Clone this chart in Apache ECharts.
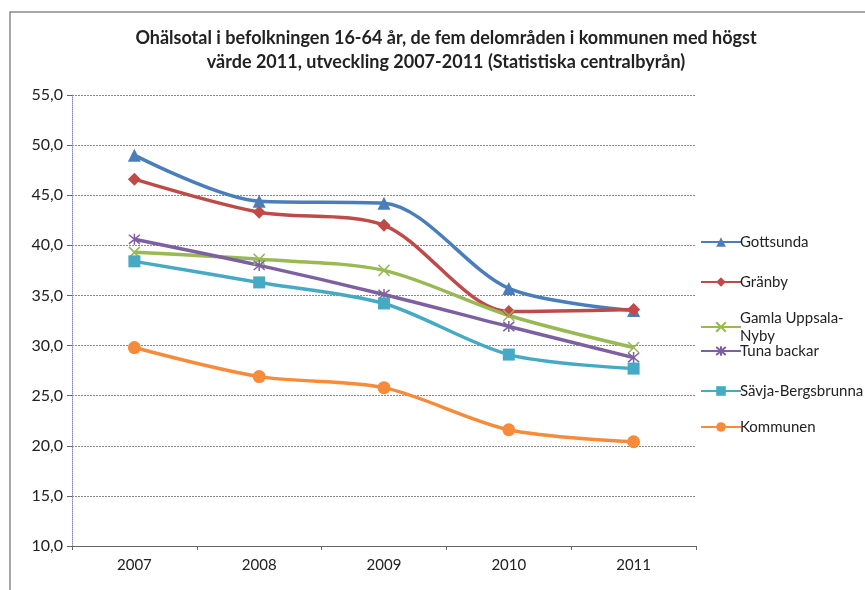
<!DOCTYPE html>
<html>
<head>
<meta charset="utf-8">
<script src="https://cdn.jsdelivr.net/npm/echarts@6/dist/echarts.min.js"></script>
<style>
  html, body { margin: 0; padding: 0; background: #fff; }
  #chart { width: 865px; height: 590px; }
</style>
</head>
<body>
<div id="chart"></div>
<script>
var years = ['2007', '2008', '2009', '2010', '2011'];

var gottsunda = [49.0, 44.4, 44.2, 35.7, 33.5];
var granby    = [46.6, 43.3, 42.0, 33.4, 33.6];
var gamla     = [39.3, 38.6, 37.5, 33.0, 29.8];
var tuna      = [40.6, 38.0, 35.1, 31.9, 28.8];
var savja     = [38.4, 36.3, 34.2, 29.1, 27.7];
var kommunen  = [29.8, 26.9, 25.8, 21.6, 20.4];

var names = ['Gottsunda', 'Gränby', 'Gamla Uppsala-Nyby', 'Tuna backar', 'Sävja-Bergsbrunna', 'Kommunen'];
var colors = ['#4a7ebb', '#be4b48', '#98b954', '#7d60a0', '#46aac5', '#f68c3b'];

var font = 'Lato, "Open Sans", sans-serif';

var x_mark = 'path://M0,0L10,10M10,0L0,10';
var star_mark = 'path://M0,0L10,10M10,0L0,10M5,-1L5,11';

function make_series(i, data, symbol, size, stroke)
{
    var s = {
        name: names[i],
        type: 'line',
        data: data,
        smooth: 0.3,
        symbol: symbol,
        symbolSize: size,
        lineStyle: {color: colors[i], width: 3.5},
        itemStyle: {color: colors[i]}
    };
    if (stroke) {
        s.itemStyle = {color: 'none', borderColor: colors[i], borderWidth: 1.5};
    }
    return s;
}

var legend_tops = [233, 273, 309, 342, 382, 418];

var legends = names.map(function (n, i) {
    return {
        data: [n],
        left: 700,
        top: legend_tops[i],
        orient: 'vertical',
        itemWidth: 40,
        itemHeight: 12,
        itemGap: 0,
        padding: 0,
        selectedMode: false,
        textStyle: {fontFamily: font, fontSize: 15, color: '#222', padding: [0, 0, 0, -6], lineHeight: 18},
        formatter: function (name) {
            return name === 'Gamla Uppsala-Nyby' ? 'Gamla Uppsala-\nNyby' : name;
        }
    };
});

var chart = echarts.init(document.getElementById('chart'));

chart.setOption({
    animation: false,
    backgroundColor: '#fff',
    title: {
        text: 'Ohälsotal i befolkningen 16-64 år, de fem delområden i kommunen med högst\nvärde 2011, utveckling 2007-2011 (Statistiska centralbyrån)',
        left: 441,
        textAlign: 'center',
        top: 21,
        textStyle: {fontFamily: font, fontSize: 18, fontWeight: 'bold', color: '#222', lineHeight: 24}
    },
    graphic: [{
        type: 'rect',
        shape: {x: 10, y: 12, width: 900, height: 700},
        style: {fill: 'none', stroke: '#8a8a8a', lineWidth: 1.5},
        silent: true
    }],
    legend: legends,
    grid: {left: 72, right: 169, top: 95, bottom: 44},
    xAxis: {
        type: 'category',
        data: years,
        boundaryGap: true,
        axisLine: {lineStyle: {color: '#666', width: 1}},
        axisTick: {show: true, length: 4, lineStyle: {color: '#666'}},
        axisLabel: {fontFamily: font, fontSize: 15, color: '#222', margin: 12}
    },
    yAxis: {
        type: 'value',
        min: 10,
        max: 55,
        interval: 5,
        axisLine: {show: true, lineStyle: {color: '#8a8ac0', type: 'dotted', width: 1}},
        axisTick: {show: true, length: 5, lineStyle: {color: '#666'}},
        axisLabel: {
            fontFamily: font, fontSize: 16, color: '#222', margin: 9,
            formatter: function (v) { return v.toFixed(1).replace('.', ','); }
        },
        splitLine: {lineStyle: {color: '#888', type: [2, 1], width: 1}}
    },
    series: [
        make_series(0, gottsunda, 'triangle', 13, false),
        make_series(1, granby, 'diamond', 13, false),
        make_series(2, gamla, x_mark, 11, true),
        make_series(3, tuna, star_mark, 11, true),
        make_series(4, savja, 'rect', 12, false),
        make_series(5, kommunen, 'circle', 13, false)
    ]
});
</script>
</body>
</html>
